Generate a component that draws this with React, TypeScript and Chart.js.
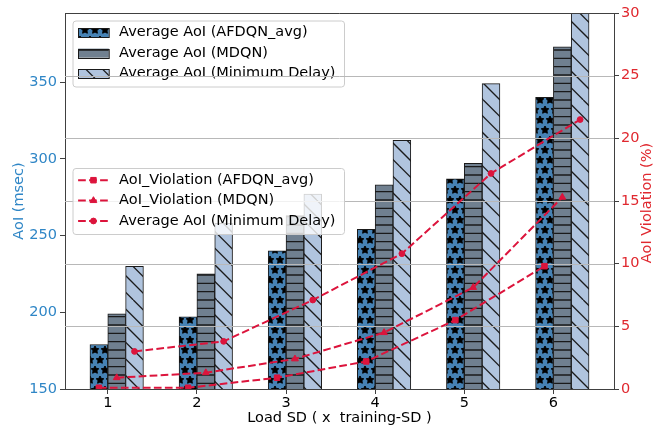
import React, { useEffect, useRef } from 'react';
import { Chart, registerables } from 'chart.js';

Chart.register(...registerables);

// ---------- data ----------
const categories = [1, 2, 3, 4, 5, 6];
const aoiAfdqn = [179, 197, 240, 254, 287, 340];
const aoiMdqn = [199, 225, 263, 283, 297, 373];
const aoiMinDelay = [230, 258, 277, 312, 349, 400];
const violationAfdqn = [0.1, 0.1, 0.9, 2.2, 5.5, 9.8];
const violationMdqn = [0.9, 1.3, 2.4, 4.5, 8.1, 15.3];
const violationMinDelay = [3.0, 3.8, 7.1, 10.8, 17.2, 21.5];
const leftTicks = [150, 200, 250, 300, 350];
const rightTicks = [0, 5, 10, 15, 20, 25, 30];
const barLabels = ['Average AoI (AFDQN_avg)', 'Average AoI (MDQN)', 'Average AoI (Minimum Delay)'];
const lineLabels = ['AoI_Violation (AFDQN_avg)', 'AoI_Violation (MDQN)', 'Average AoI (Minimum Delay)'];
const xTitle = 'Load SD ( x  training-SD )';
const yTitle = 'AoI (msec)';
const y1Title = 'AoI Violation (%)';

// ---------- style ----------
const FONT_FAMILY = '"DejaVu Sans", sans-serif';
const FS = 14.5;
const EDGE = '#1a1a1a';
const SPINE = '#404040';
const CRIMSON = '#dc143c';
const BLUE = '#2f86c6';
const RED = '#e0282f';
const GRID = '#b8b8b8';
const DASH = [7.7, 3.3];
const BAR_COLORS = ['#4682b4', '#708090', '#b0c4de'];
const HATCHES = ['stars', 'hlines', 'diag'];
const BAR_OFFSETS = [-0.1, 0.1, 0.3];
const POINT_STYLES = ['rect', 'triangle', 'circle'];
const POINT_RADII = [3.9, 3.9, 2.9];

function drawStar(g: CanvasRenderingContext2D, cx: number, cy: number, r: number) {
  g.beginPath();
  for (let i = 0; i < 10; i++) {
    const rr = i % 2 === 0 ? r : r * 0.5;
    const a = -Math.PI / 2 + (i * Math.PI) / 5;
    const x = cx + rr * Math.cos(a);
    const y = cy + rr * Math.sin(a);
    if (i === 0) g.moveTo(x, y);
    else g.lineTo(x, y);
  }
  g.closePath();
  g.fill();
  g.stroke();
}

function makePattern(kind: string, bg: string): CanvasPattern | string {
  const c = document.createElement('canvas');
  c.width = 100;
  c.height = 100;
  const g = c.getContext('2d');
  if (!g) return bg;
  g.fillStyle = bg;
  g.fillRect(0, 0, 100, 100);
  g.strokeStyle = EDGE;
  g.fillStyle = EDGE;
  g.lineWidth = 1.3;
  if (kind === 'stars') {
    const n = 10;
    const off = 100 / n;
    const r = 4;
    g.lineWidth = 1;
    g.fillStyle = '#000';
    g.strokeStyle = '#000';
    for (let row = 0; row <= n; row++) {
      const even = row % 2 === 0;
      const cols = even ? n + 1 : n;
      for (let k = 0; k < cols; k++) {
        const cx = even ? k * off : off / 2 + k * off;
        drawStar(g, cx, row * off, r);
      }
    }
  } else if (kind === 'hlines') {
    const n = 12;
    for (let k = 0; k <= n; k++) {
      const y = (k * 100) / n;
      g.beginPath();
      g.moveTo(0, y);
      g.lineTo(100, y);
      g.stroke();
    }
  } else {
    const n = 6;
    for (let k = -n; k <= n; k++) {
      const c0 = (k * 100) / n;
      g.beginPath();
      g.moveTo(c0, 0);
      g.lineTo(c0 + 100, 100);
      g.stroke();
    }
  }
  return g.createPattern(c, 'repeat') || bg;
}

function drawMarker(ctx: CanvasRenderingContext2D, style: string, x: number, y: number) {
  ctx.save();
  ctx.setLineDash([]);
  ctx.fillStyle = CRIMSON;
  ctx.strokeStyle = CRIMSON;
  ctx.lineWidth = 1;
  ctx.beginPath();
  if (style === 'rect') {
    const s = 3.9 * Math.SQRT1_2;
    ctx.rect(x - s, y - s, 2 * s, 2 * s);
  } else if (style === 'triangle') {
    const r = 3.9;
    ctx.moveTo(x, y - r);
    ctx.lineTo(x + 0.866 * r, y + 0.5 * r);
    ctx.lineTo(x - 0.866 * r, y + 0.5 * r);
    ctx.closePath();
  } else {
    ctx.arc(x, y, 2.9, 0, Math.PI * 2);
  }
  ctx.fill();
  ctx.stroke();
  ctx.restore();
}

function legendBox(ctx: CanvasRenderingContext2D, x: number, y: number, w: number, h: number) {
  ctx.save();
  ctx.beginPath();
  (ctx as any).roundRect(x + 0.5, y + 0.5, w, h, 3);
  ctx.fillStyle = 'rgba(255,255,255,0.8)';
  ctx.fill();
  ctx.strokeStyle = '#cccccc';
  ctx.lineWidth = 1;
  ctx.stroke();
  ctx.restore();
}

const LEG_W = 271.5;
const LEG_H = 66;
const ROW0 = 12.2;
const ROW_STEP = 20.4;
const HANDLE_X = 5.6;
const HANDLE_W = 30.7;
const TEXT_X = 46.6;

export default function App() {
  const ref = useRef<HTMLCanvasElement | null>(null);

  useEffect(() => {
    const canvas = ref.current;
    if (!canvas) return;
    const patterns = HATCHES.map((h, i) => makePattern(h, BAR_COLORS[i]));
    const barSeries = [aoiAfdqn, aoiMdqn, aoiMinDelay];
    const lineSeries = [violationAfdqn, violationMdqn, violationMinDelay];

    const overlay = {
      id: 'overlay',
      afterDatasetDraw(chart: any, args: any) {
        if (args.index !== 0) return;
        const ctx: CanvasRenderingContext2D = chart.ctx;
        const ca = chart.chartArea;
        // legend for bars (belongs to the lower axes)
        const lx = ca.left + 7.5;
        const ly = ca.top + 7.5;
        legendBox(ctx, lx, ly, LEG_W, LEG_H);
        ctx.save();
        ctx.font = `${FS}px ${FONT_FAMILY}`;
        ctx.textBaseline = 'middle';
        ctx.textAlign = 'left';
        barLabels.forEach((lab, i) => {
          const cy = ly + ROW0 + i * ROW_STEP;
          ctx.fillStyle = patterns[i] as any;
          ctx.fillRect(lx + HANDLE_X, cy - 4.5, HANDLE_W, 9);
          ctx.strokeStyle = EDGE;
          ctx.lineWidth = 1;
          ctx.strokeRect(Math.round(lx + HANDLE_X) + 0.5, Math.round(cy - 4.5) + 0.5, HANDLE_W, 9);
          ctx.fillStyle = '#000';
          ctx.fillText(lab, lx + TEXT_X, cy);
        });
        ctx.restore();
        // grid lines of the right axis, drawn above the bars
        const y1 = chart.scales.y1;
        ctx.save();
        ctx.strokeStyle = GRID;
        ctx.lineWidth = 1;
        rightTicks.forEach((v) => {
          if (v <= y1.min || v >= y1.max) return;
          const y = Math.round(y1.getPixelForValue(v)) + 0.5;
          ctx.beginPath();
          ctx.moveTo(ca.left, y);
          ctx.lineTo(ca.right, y);
          ctx.stroke();
        });
        ctx.restore();
      },
      afterDatasetsDraw(chart: any) {
        const ctx: CanvasRenderingContext2D = chart.ctx;
        const ca = chart.chartArea;
        // legend for lines, center left
        const lx = ca.left + 7.5;
        const ly = (ca.top + ca.bottom) / 2 - LEG_H / 2;
        legendBox(ctx, lx, ly, LEG_W, LEG_H);
        ctx.save();
        ctx.font = `${FS}px ${FONT_FAMILY}`;
        ctx.textBaseline = 'middle';
        ctx.textAlign = 'left';
        lineLabels.forEach((lab, i) => {
          const cy = ly + ROW0 + i * ROW_STEP;
          ctx.save();
          ctx.strokeStyle = CRIMSON;
          ctx.lineWidth = 2;
          ctx.setLineDash(DASH);
          ctx.lineDashOffset = 0;
          ctx.beginPath();
          ctx.moveTo(lx + HANDLE_X, cy);
          ctx.lineTo(lx + HANDLE_X + HANDLE_W, cy);
          ctx.stroke();
          ctx.restore();
          drawMarker(ctx, POINT_STYLES[i], lx + HANDLE_X + HANDLE_W / 2, cy);
          ctx.fillStyle = '#000';
          ctx.fillText(lab, lx + TEXT_X, cy);
        });
        ctx.restore();
        // top spine
        ctx.save();
        ctx.strokeStyle = SPINE;
        ctx.lineWidth = 1;
        ctx.beginPath();
        ctx.moveTo(ca.left, Math.round(ca.top) + 0.5);
        ctx.lineTo(ca.right + 0.5, Math.round(ca.top) + 0.5);
        ctx.stroke();
        ctx.restore();
        // axis titles
        ctx.save();
        ctx.font = `${FS}px ${FONT_FAMILY}`;
        ctx.textAlign = 'center';
        ctx.textBaseline = 'middle';
        ctx.fillStyle = '#000';
        ctx.fillText(xTitle, (ca.left + ca.right) / 2, ca.bottom + 29.5);
        const midY = (ca.top + ca.bottom) / 2;
        ctx.save();
        ctx.translate(ca.left - 46, midY);
        ctx.rotate(-Math.PI / 2);
        ctx.fillStyle = BLUE;
        ctx.fillText(yTitle, 0, 0);
        ctx.restore();
        ctx.save();
        ctx.translate(ca.right + 33.5, midY + 2);
        ctx.rotate(-Math.PI / 2);
        ctx.fillStyle = RED;
        ctx.fillText(y1Title, 0, 0);
        ctx.restore();
        ctx.restore();
      },
    };

    const datasets: any[] = [];
    barSeries.forEach((vals, s) => {
      datasets.push({
        type: 'bar',
        label: barLabels[s],
        data: categories.map((c, i) => ({ x: c + BAR_OFFSETS[s], y: vals[i] })),
        backgroundColor: patterns[s],
        borderColor: EDGE,
        borderWidth: 1,
        borderSkipped: false,
        grouped: false,
        barPercentage: 1,
        categoryPercentage: 1,
        xAxisID: 'x',
        yAxisID: 'y',
        order: 1,
        clip: 0,
      });
    });
    lineSeries.forEach((vals, s) => {
      datasets.push({
        type: 'line',
        label: lineLabels[s],
        data: categories.map((c, i) => ({ x: c + BAR_OFFSETS[s], y: vals[i] })),
        borderColor: CRIMSON,
        backgroundColor: CRIMSON,
        borderWidth: 2,
        borderDash: DASH,
        fill: false,
        tension: 0,
        pointStyle: POINT_STYLES[s],
        pointRadius: POINT_RADII[s],
        pointBackgroundColor: CRIMSON,
        pointBorderColor: CRIMSON,
        pointBorderWidth: 1,
        xAxisID: 'x',
        yAxisID: 'y1',
        order: 0,
      });
    });

    const tickFont = { family: FONT_FAMILY, size: FS };

    const chart = new Chart(canvas, {
      type: 'bar',
      data: { datasets },
      options: {
        responsive: false,
        animation: false,
        devicePixelRatio: 1,
        events: [],
        layout: { padding: { top: 13, left: 0, right: 0, bottom: 0 } },
        plugins: { legend: { display: false }, tooltip: { enabled: false }, title: { display: false } },
        scales: {
          x: {
            type: 'linear',
            position: 'bottom',
            min: 0.52,
            max: 6.68,
            offset: false,
            grid: { display: true, drawOnChartArea: false, drawTicks: true, tickLength: 5, color: SPINE, tickColor: SPINE, offset: false },
            border: { display: true, color: SPINE, width: 1 },
            ticks: { color: '#000', font: tickFont, padding: 1, maxRotation: 0, autoSkip: false },
            afterBuildTicks: (s: any) => { s.ticks = categories.map((v) => ({ value: v })); },
            afterFit: (s: any) => { s.height = 44; },
          },
          y: {
            type: 'linear',
            position: 'left',
            min: 150,
            max: 395,
            grid: { display: true, drawOnChartArea: false, drawTicks: true, tickLength: 5, color: SPINE, tickColor: SPINE },
            border: { display: true, color: SPINE, width: 1 },
            ticks: { color: BLUE, font: tickFont, padding: 3 },
            afterBuildTicks: (s: any) => { s.ticks = leftTicks.map((v) => ({ value: v })); },
            afterFit: (s: any) => { s.width = 65; },
          },
          y1: {
            type: 'linear',
            position: 'right',
            min: 0,
            max: 30,
            grid: { display: true, drawOnChartArea: false, drawTicks: true, tickLength: 5, color: SPINE, tickColor: SPINE },
            border: { display: true, color: SPINE, width: 1 },
            ticks: { color: RED, font: tickFont, padding: 2 },
            afterBuildTicks: (s: any) => { s.ticks = rightTicks.map((v) => ({ value: v })); },
            afterFit: (s: any) => { s.width = 55; },
          },
        },
      } as any,
      plugins: [overlay as any],
    });

    return () => chart.destroy();
  }, []);

  return (
    <div style={{ position: 'absolute', left: 0, top: 0, width: 669, height: 433, background: '#fff' }}>
      <canvas ref={ref} width={669} height={433} style={{ width: 669, height: 433, display: 'block' }} />
    </div>
  );
}
